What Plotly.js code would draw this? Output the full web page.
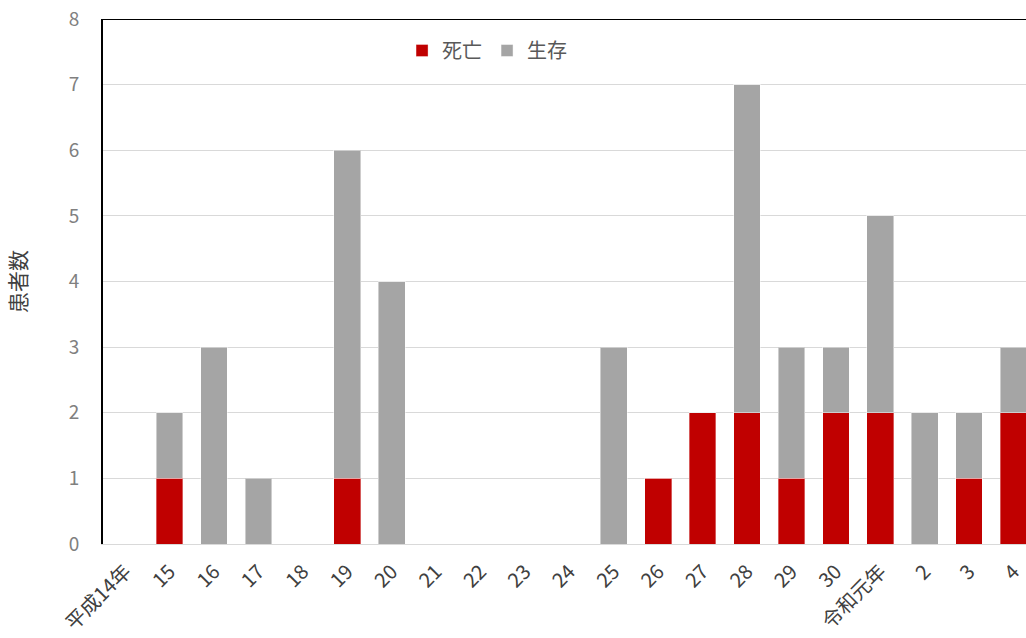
<!DOCTYPE html>
<html>
<head>
<meta charset="utf-8">
<script src="https://cdn.plot.ly/plotly-3.0.1.min.js"></script>
<style>
  html, body { margin: 0; padding: 0; background: #fff; }
  #chart { width: 1026px; height: 638px; }
</style>
</head>
<body>
<div id="chart"></div>
<script>
// Fiscal years (平成14年 … 令和4年)
const years = ['平成14年', '15', '16', '17', '18', '19', '20', '21', '22', '23', '24',
               '25', '26', '27', '28', '29', '30', '令和元年', '2', '3', '4'];
// Patients who died
const deaths = [0, 1, 0, 0, 0, 1, 0, 0, 0, 0, 0, 0, 1, 2, 2, 1, 2, 2, 0, 1, 2];
// Patients who survived
const survivors = [0, 1, 3, 1, 0, 5, 4, 0, 0, 0, 0, 3, 0, 0, 5, 2, 1, 3, 2, 1, 1];

const FONT = '"Noto Sans CJK JP", "Noto Sans", sans-serif';

const traces = [
  {
    type: 'bar', name: '死亡', x: years, y: deaths,
    marker: { color: '#c00000', line: { color: 'rgba(255,255,255,0.35)', width: 1 } }
  },
  {
    type: 'bar', name: '生存', x: years, y: survivors,
    marker: { color: '#a5a5a5', line: { color: 'rgba(255,255,255,0.45)', width: 1 } }
  }
];

const layout = {
  width: 1026, height: 638,
  margin: { l: 103, r: 0, t: 19, b: 94, pad: 0 },
  paper_bgcolor: '#fff', plot_bgcolor: '#fff',
  barmode: 'stack', bargap: 0.4,
  font: { family: FONT, color: '#595959' },
  showlegend: true,
  legend: {
    orientation: 'h', traceorder: 'normal',
    x: 0.324, xanchor: 'left', y: 0.94, yanchor: 'middle',
    font: { size: 20, color: '#595959', family: FONT },
    itemwidth: 30, tracegroupgap: 0, bgcolor: 'rgba(0,0,0,0)'
  },
  xaxis: {
    type: 'category', range: [-0.5, 20.28], fixedrange: true,
    tickangle: -45, tickfont: { size: 20, color: '#404040', family: FONT },
    ticklabelstandoff: 7,
    showline: true, linecolor: '#d9d9d9', linewidth: 1,
    showgrid: false, zeroline: false, ticks: ''
  },
  yaxis: {
    range: [0, 8], dtick: 1, fixedrange: true,
    tickfont: { size: 19, color: '#808080', family: FONT },
    showline: true, linecolor: '#000', linewidth: 2,
    showgrid: true, gridcolor: '#d9d9d9', gridwidth: 1,
    zeroline: false, ticks: '', ticklabelstandoff: 18,
    title: { text: '患者数', font: { size: 21, color: '#404040', family: FONT }, standoff: 36 }
  },
  shapes: [
    { type: 'line', xref: 'paper', yref: 'y', x0: 0, x1: 1, y0: 8, y1: 8,
      line: { color: '#000', width: 2 } }
  ]
};

Plotly.newPlot('chart', traces, layout, { displayModeBar: false, staticPlot: true });
</script>
</body>
</html>
